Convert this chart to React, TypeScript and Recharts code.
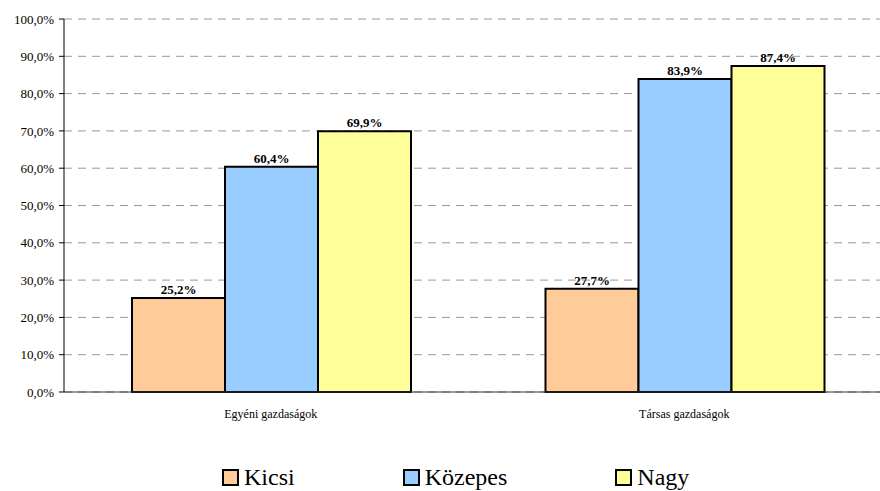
import { BarChart, Bar, XAxis, YAxis, CartesianGrid, Legend, LabelList } from 'recharts'

const categories = ['Egyéni gazdaságok', 'Társas gazdaságok']
const kicsi = [25.2, 27.7]
const kozepes = [60.4, 83.9]
const nagy = [69.9, 87.4]
const yTicks = [0, 10, 20, 30, 40, 50, 60, 70, 80, 90, 100]

const series = [
    { key: 'kicsi', name: 'Kicsi', color: '#FFCC99' },
    { key: 'kozepes', name: 'Közepes', color: '#99CCFF' },
    { key: 'nagy', name: 'Nagy', color: '#FFFF99' },
]

const data = categories.map((c, i) => ({ cat: c, idx: i + 0.5, kicsi: kicsi[i], kozepes: kozepes[i], nagy: nagy[i] }))

const pct = (v: any) => Number(v).toFixed(1).replace('.', ',') + '%'
const font = 'Liberation Serif'

const LegendBox = () => (
    <div style={{ display: 'flex', alignItems: 'center', marginLeft: 222, gap: 108, fontFamily: font, fontSize: 24, lineHeight: '28px', color: '#000' }}>
        {series.map(s => (
            <div key={s.key} style={{ display: 'flex', alignItems: 'center' }}>
                <span style={{ width: 13, height: 13, background: s.color, border: '2px solid #000', marginRight: 5, display: 'inline-block' }} />
                <span>{s.name}</span>
            </div>
        ))}
    </div>
)

export default function App() {
    return (
        <div style={{ position: 'absolute', left: 0, top: 0, width: 880, height: 491, background: '#fff', overflow: 'hidden' }}>
            <BarChart width={891} height={491} data={data} margin={{ top: 19, right: 0, left: 0, bottom: 41 }}
                barCategoryGap={68} barGap={0}>
                <CartesianGrid vertical={false} stroke="#999" strokeDasharray="8 6" />
                <XAxis xAxisId="b" type="number" dataKey="idx" domain={[0, 2]} ticks={[0, 1, 2]} tick={false}
                    height={0} axisLine={false} tickLine={{ stroke: '#333' }} tickSize={5} />
                <XAxis dataKey="cat" height={30} axisLine={{ stroke: '#333', strokeWidth: 1 }} tickLine={false}
                    tick={{ fill: '#000', fontSize: 12, fontFamily: font }} tickMargin={11} />
                <YAxis domain={[0, 100]} ticks={yTicks} width={64} tickFormatter={pct}
                    axisLine={{ stroke: '#000' }} tickLine={{ stroke: '#000' }} tickSize={5} tickMargin={5}
                    tick={{ fill: '#000', fontSize: 13, fontFamily: font }} />
                {series.map(s => (
                    <Bar key={s.key} dataKey={s.key} name={s.name} fill={s.color} stroke="#000" strokeWidth={2} isAnimationActive={false}>
                        <LabelList dataKey={s.key} position="top" offset={4} formatter={pct}
                            style={{ fill: '#000', fontSize: 13, fontWeight: 'bold', fontFamily: font }} />
                    </Bar>
                ))}
                <Legend verticalAlign="bottom" wrapperStyle={{ left: 0, top: 463, width: 880 }} content={<LegendBox />} />
            </BarChart>
        </div>
    )
}
